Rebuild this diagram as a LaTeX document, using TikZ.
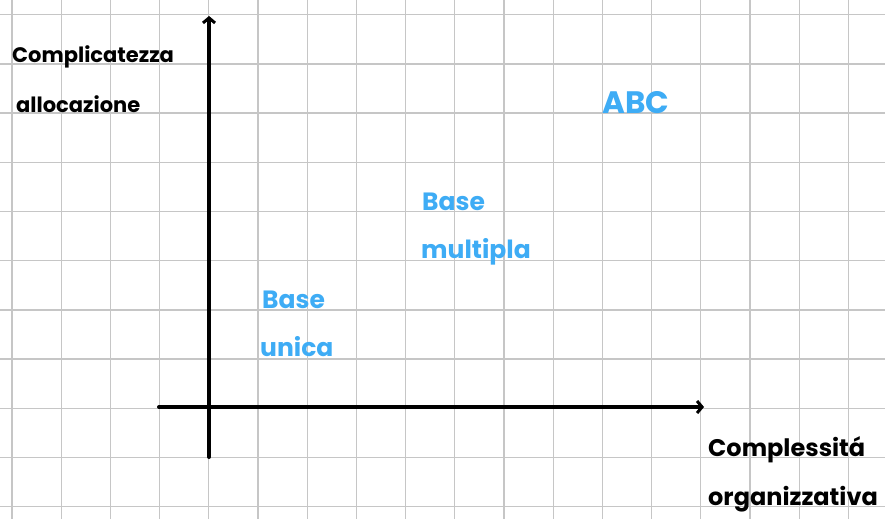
\documentclass[tikz,border=0pt]{standalone}
\usepackage{fontspec}
\setmainfont{Poppins}
\usetikzlibrary{arrows.meta}
\definecolor{gridgray}{RGB}{198,198,198}
\definecolor{penblue}{RGB}{62,172,245}
\tikzset{
  gridline/.style={draw=gridgray, line width=1.3pt},
  axisline/.style={draw=black, line width=4pt, line cap=round},
  tip/.style={-{Straight Barb[length=5pt,width=12pt,line width=3pt]}},
  blacklabel/.style={anchor=base west, inner sep=0pt, text=black, font=\fontsize{21}{21}\selectfont\bfseries},
  bluelabel/.style={anchor=base west, inner sep=0pt, text=penblue, font=\fontsize{25}{25}\selectfont\bfseries},
}
\begin{document}
\begin{tikzpicture}[x=1pt,y=-1pt]
\useasboundingbox (0,0) rectangle (885,519);
\fill[white] (0,0) rectangle (885,519);
% grid
\foreach \i in {0,...,17} \draw[gridline] ({12+49.2*\i},0) -- ({12+49.2*\i},519);
\foreach \j in {0,...,10} \draw[gridline] (0,{14.7+49.2*\j}) -- (885,{14.7+49.2*\j});
% axes
\coordinate (ybot) at (209,457);
\coordinate (ytop) at (209,16);
\coordinate (xleft) at (159,407);
\coordinate (xright) at (704,407);
\draw[axisline,tip] (ybot) -- (ytop);
\draw[axisline,tip] (xleft) -- (xright);
% labels
\node[blacklabel] (yl1) at (12,63) {Complicatezza};
\node[blacklabel] (yl2) at (16,112) {allocazione};
\node[blacklabel, font=\fontsize{24}{24}\selectfont\bfseries] (xl1) at (708,456) {Complessitá};
\node[blacklabel, font=\fontsize{24}{24}\selectfont\bfseries] (xl2) at (708,505) {organizzativa};
\node[bluelabel, font=\fontsize{31}{31}\selectfont\bfseries] (abc) at (602,113) {ABC};
\node[bluelabel] (bm1) at (422,210) {Base};
\node[bluelabel] (bm2) at (421,258) {multipla};
\node[bluelabel] (bu1) at (262,308) {Base};
\node[bluelabel] (bu2) at (260,356) {unica};
\end{tikzpicture}
\end{document}
